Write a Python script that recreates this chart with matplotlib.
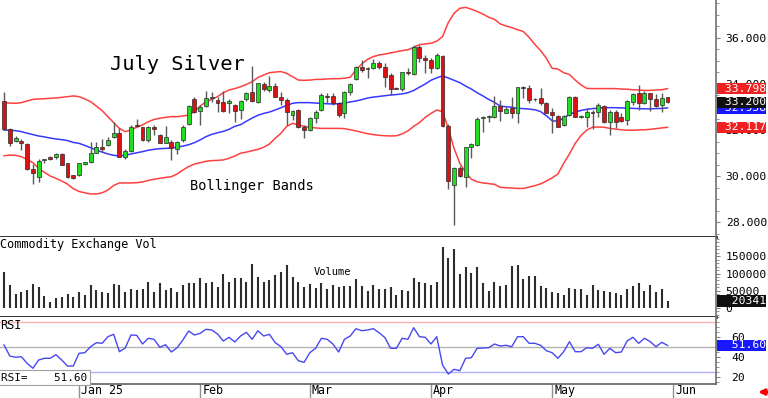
import matplotlib
matplotlib.use("Agg")
import matplotlib.pyplot as plt
import matplotlib.transforms as mtransforms
from matplotlib.ticker import MultipleLocator, FormatStrFormatter, FuncFormatter
import numpy as np

plt.rcParams['font.family'] = ['DejaVu Sans Mono']

# daily bars, Dec 12 2024 .. May 30 2025
opens = [33.27, 32.03, 31.52, 31.52, 31.39, 30.29, 29.97, 30.69, 30.84, 30.84,
         30.94, 30.55, 30.03, 30.04, 30.53, 30.62, 31.01, 31.24, 31.34, 31.68,
         31.88, 30.81, 31.10, 32.20, 32.11, 31.56, 32.11, 31.77, 31.45, 31.48,
         31.18, 31.57, 32.25, 33.33, 32.83, 33.04, 33.38, 33.30, 33.23, 33.19,
         33.09, 32.87, 33.33, 33.67, 33.23, 34.00, 33.74, 33.91, 33.45, 33.30,
         32.65, 32.87, 32.15, 32.00, 32.51, 32.87, 33.48, 33.48, 33.19, 32.72,
         33.64, 34.20, 34.75, 34.66, 34.68, 34.90, 34.72, 34.39, 33.83, 33.77,
         34.54, 34.42, 35.62, 35.12, 35.04, 34.68, 35.22, 32.17, 29.61, 30.33,
         29.97, 31.28, 31.35, 32.51, 32.55, 32.55, 33.04, 32.75, 32.94, 32.75,
         33.86, 33.81, 33.33, 33.38, 33.19, 32.80, 32.61, 32.22, 32.65, 33.45,
         32.56, 32.58, 32.80, 32.80, 33.04, 32.36, 32.80, 32.58, 32.43, 33.23,
         33.59, 33.16, 33.59, 33.33, 33.09, 33.42]
highs = [33.64, 32.07, 31.74, 31.59, 31.42, 30.52, 30.72, 30.76, 30.87, 31.01,
         30.98, 30.58, 30.06, 30.58, 30.62, 31.49, 31.49, 31.59, 31.71, 32.36,
         32.07, 31.16, 32.20, 32.46, 32.14, 32.17, 32.20, 31.83, 32.17, 31.57,
         31.52, 32.22, 33.09, 33.45, 33.09, 33.70, 33.67, 33.45, 33.71, 33.35,
         33.13, 33.30, 33.67, 34.78, 34.06, 34.10, 34.35, 34.03, 33.67, 33.38,
         32.87, 32.90, 32.22, 32.55, 32.87, 33.59, 33.62, 33.62, 33.23, 33.71,
         34.06, 34.78, 35.04, 34.72, 35.07, 35.01, 34.93, 34.46, 33.86, 34.54,
         34.68, 35.70, 35.70, 35.26, 35.12, 35.36, 35.26, 32.26, 30.41, 30.43,
         31.28, 31.45, 32.55, 32.61, 32.65, 33.48, 33.30, 33.01, 33.42, 33.88,
         33.91, 33.96, 33.41, 33.81, 33.23, 32.94, 32.65, 32.65, 33.48, 33.48,
         32.65, 32.94, 32.87, 33.19, 33.09, 32.87, 32.87, 32.72, 33.30, 33.59,
         33.96, 33.71, 33.62, 33.57, 33.62, 33.45]
lows = [32.00, 31.30, 31.46, 31.13, 30.26, 29.65, 29.75, 30.58, 30.69, 30.72,
        30.46, 29.90, 29.85, 30.01, 30.50, 30.58, 30.98, 31.06, 31.30, 31.64,
        30.81, 30.72, 31.04, 32.14, 31.53, 31.50, 31.78, 31.42, 31.42, 30.69,
        30.95, 31.49, 32.22, 32.75, 32.22, 32.99, 33.23, 32.80, 32.80, 32.72,
        32.36, 32.46, 33.28, 33.23, 33.19, 33.71, 33.67, 33.42, 33.09, 32.22,
        32.43, 32.07, 31.64, 31.97, 32.32, 32.84, 33.19, 33.09, 32.55, 32.51,
        33.52, 34.17, 34.54, 34.25, 34.64, 34.64, 33.88, 33.52, 33.77, 33.71,
        34.39, 34.39, 34.97, 34.46, 34.46, 34.64, 32.15, 29.42, 27.87, 29.97,
        29.54, 30.77, 31.30, 31.93, 32.36, 32.51, 32.41, 32.72, 32.51, 32.32,
        33.38, 33.16, 33.28, 33.09, 32.72, 31.86, 32.12, 32.17, 32.61, 32.55,
        32.51, 32.15, 32.03, 32.58, 32.29, 31.78, 32.07, 32.36, 32.22, 33.09,
        32.87, 33.13, 32.84, 32.99, 32.80, 33.16]
closes = [32.03, 31.45, 31.65, 31.42, 30.29, 30.11, 30.65, 30.74, 30.74, 30.97,
          30.50, 29.94, 29.91, 30.55, 30.59, 30.98, 31.27, 31.18, 31.56, 31.88,
          30.84, 31.10, 32.14, 32.16, 31.56, 32.11, 32.03, 31.45, 31.68, 31.20,
          31.46, 32.15, 33.04, 32.80, 33.01, 33.38, 33.45, 33.19, 32.83, 33.28,
          32.83, 33.28, 33.62, 33.28, 34.03, 33.77, 33.91, 33.45, 33.30, 32.80,
          32.83, 32.15, 32.00, 32.51, 32.80, 33.52, 33.45, 33.19, 32.65, 33.67,
          34.00, 34.72, 34.61, 34.68, 34.90, 34.72, 34.32, 33.77, 33.79, 34.51,
          34.46, 35.62, 35.12, 35.04, 34.68, 35.26, 32.17, 29.80, 30.33, 30.00,
          31.25, 31.38, 32.46, 32.58, 32.61, 33.04, 32.83, 32.90, 32.75, 33.86,
          33.83, 33.30, 33.36, 33.19, 32.75, 32.64, 32.14, 32.61, 33.42, 32.58,
          32.61, 32.80, 32.72, 33.09, 32.36, 32.80, 32.36, 32.41, 33.28, 33.57,
          33.16, 33.62, 33.33, 33.04, 33.38, 33.20]

bb_upper = [33.19, 33.17, 33.16, 33.19, 33.26, 33.33, 33.35, 33.36, 33.38, 33.39,
            33.42, 33.45, 33.48, 33.45, 33.35, 33.23, 33.04, 32.84, 32.58, 32.32,
            32.07, 31.93, 32.00, 32.12, 32.22, 32.36, 32.46, 32.51, 32.55, 32.58,
            32.58, 32.61, 32.65, 32.80, 33.04, 33.23, 33.33, 33.45, 33.62, 33.74,
            33.80, 33.88, 33.98, 34.10, 34.28, 34.39, 34.49, 34.52, 34.54, 34.46,
            34.32, 34.17, 34.16, 34.17, 34.20, 34.20, 34.22, 34.23, 34.23, 34.25,
            34.29, 34.61, 34.87, 35.07, 35.19, 35.26, 35.30, 35.35, 35.40, 35.45,
            35.49, 35.59, 35.71, 35.74, 35.77, 35.86, 36.06, 36.67, 37.07, 37.29,
            37.33, 37.25, 37.15, 37.04, 36.90, 36.81, 36.61, 36.52, 36.45, 36.36,
            36.28, 36.03, 35.72, 35.45, 35.12, 34.68, 34.65, 34.49, 34.41, 34.17,
            33.96, 33.81, 33.80, 33.80, 33.80, 33.80, 33.80, 33.78, 33.77, 33.75,
            33.74, 33.72, 33.72, 33.74, 33.75, 33.798]
bb_mid = [32.00, 31.99, 31.97, 31.93, 31.86, 31.80, 31.74, 31.70, 31.65, 31.61,
          31.58, 31.54, 31.46, 31.42, 31.33, 31.23, 31.13, 31.04, 30.96, 30.90,
          30.87, 30.90, 30.96, 31.01, 31.06, 31.12, 31.16, 31.19, 31.20, 31.22,
          31.26, 31.30, 31.36, 31.45, 31.57, 31.71, 31.81, 31.88, 31.94, 32.03,
          32.16, 32.23, 32.38, 32.52, 32.64, 32.72, 32.78, 32.87, 32.97, 33.07,
          33.16, 33.19, 33.19, 33.19, 33.17, 33.16, 33.14, 33.13, 33.14, 33.17,
          33.22, 33.26, 33.32, 33.39, 33.43, 33.46, 33.49, 33.52, 33.54, 33.57,
          33.62, 33.72, 33.86, 34.00, 34.16, 34.27, 34.35, 34.26, 34.16, 34.06,
          33.91, 33.78, 33.62, 33.48, 33.33, 33.20, 33.04, 33.01, 32.99, 32.94,
          32.93, 32.91, 32.88, 32.80, 32.62, 32.40, 32.38, 32.52, 32.68, 32.78,
          32.85, 32.90, 32.93, 32.95, 32.97, 32.97, 32.97, 32.96, 32.95, 32.94,
          32.93, 32.92, 32.92, 32.93, 32.94, 32.958]
bb_lower = [30.88, 30.91, 30.90, 30.84, 30.72, 30.58, 30.33, 30.16, 30.00, 29.90,
            29.78, 29.65, 29.45, 29.33, 29.27, 29.22, 29.22, 29.27, 29.39, 29.59,
            29.70, 29.70, 29.70, 29.71, 29.74, 29.81, 29.86, 29.90, 29.94, 29.97,
            30.09, 30.26, 30.41, 30.52, 30.58, 30.64, 30.67, 30.68, 30.70, 30.77,
            30.87, 30.99, 31.04, 31.10, 31.16, 31.25, 31.39, 31.64, 31.86, 32.16,
            32.29, 32.22, 32.16, 32.12, 32.09, 32.07, 32.07, 32.07, 32.07, 32.06,
            32.01, 31.96, 31.90, 31.84, 31.80, 31.77, 31.75, 31.74, 31.75, 31.83,
            31.96, 32.16, 32.32, 32.55, 32.72, 32.87, 32.80, 32.07, 31.20, 30.55,
            30.16, 29.86, 29.75, 29.70, 29.67, 29.64, 29.51, 29.49, 29.48, 29.46,
            29.46, 29.52, 29.58, 29.66, 29.78, 29.92, 30.09, 30.55, 30.96, 31.42,
            31.76, 32.00, 32.12, 32.13, 32.12, 32.07, 32.04, 32.01, 31.99, 31.99,
            32.00, 32.01, 32.03, 32.06, 32.09, 32.117]

volume = [103500, 66700, 39600, 45500, 52200, 69600, 61900, 34800, 18400, 28000,
          32900, 40600, 30900, 47300, 37700, 66700, 52200, 47300, 44500, 69600,
          65700, 47300, 54100, 52200, 56100, 75400, 46400, 71500, 52200, 58000,
          46400, 66700, 71500, 71500, 87900, 71500, 75400, 61900, 97600, 76400,
          87900, 87900, 76400, 127600, 88900, 76400, 81200, 95700, 105400, 124700,
          90900, 76400, 60000, 69600, 57000, 73500, 55100, 66700, 61900, 63800,
          63800, 83100, 63800, 50300, 66700, 54100, 55100, 60000, 37700, 52200,
          49300, 86000, 74400, 73500, 66700, 74400, 177000, 145000, 170000, 98600,
          120000, 102500, 117900, 73500, 50300, 74400, 63800, 66700, 121800, 124700,
          85100, 92800, 92800, 63800, 58000, 47300, 42500, 37700, 58900, 54100,
          54100, 37700, 66700, 52200, 50300, 47300, 42500, 37700, 54100, 63800,
          71500, 50300, 66700, 47300, 54100, 20341]

rsi = [52.0, 41.0, 39.7, 40.3, 33.7, 28.7, 37.0, 38.7, 38.7, 42.3,
       37.0, 31.0, 31.0, 43.7, 44.3, 50.3, 54.3, 53.7, 60.3, 62.7,
       45.3, 49.0, 62.0, 61.7, 53.0, 58.7, 57.7, 49.7, 52.3, 45.0,
       49.3, 57.0, 66.0, 62.0, 63.7, 67.7, 67.0, 63.0, 56.0, 59.7,
       55.0, 61.0, 64.7, 57.7, 66.3, 61.0, 62.7, 54.3, 50.3, 42.7,
       44.3, 36.3, 34.7, 44.3, 48.7, 58.7, 57.7, 53.0, 45.0, 57.7,
       61.0, 68.3, 66.3, 67.0, 68.3, 64.3, 59.5, 48.7, 48.7, 58.7,
       57.7, 69.3, 60.3, 59.7, 53.0, 60.3, 32.0, 23.0, 27.7, 26.3,
       38.7, 39.3, 48.7, 49.0, 49.3, 53.0, 51.0, 51.7, 50.3, 60.3,
       60.3, 53.7, 53.7, 51.7, 46.3, 44.3, 38.7, 45.3, 55.3, 45.3,
       45.3, 49.3, 48.7, 52.7, 42.7, 48.7, 44.3, 45.0, 56.0, 59.7,
       53.7, 58.7, 55.3, 50.3, 54.7, 51.60]

month_pos = [13, 34, 53, 74, 95, 116]
month_labels = ['Jan 25', 'Feb', 'Mar', 'Apr', 'May', 'Jun']

x = np.arange(len(closes))
W, H = 768, 398


def rect(x0, y0, x1, y1):
    return [x0 / W, 1 - y1 / H, (x1 - x0) / W, (y1 - y0) / H]


fig = plt.figure(figsize=(W / 100, H / 100), dpi=100)
ax_p = fig.add_axes(rect(0, 0, 716, 237))
ax_v = fig.add_axes(rect(0, 237, 716, 317))
ax_r = fig.add_axes(rect(0, 317, 716, 384))

for ax in (ax_p, ax_v, ax_r):
    ax.set_xlim(-0.7, 123.4)
    ax.spines['left'].set_visible(False)
    ax.spines['top'].set_visible(False)
    ax.spines['right'].set_color('#707070')
    ax.spines['right'].set_linewidth(1.2)
    ax.yaxis.tick_right()
    ax.tick_params(axis='y', which='both', direction='out', colors='#808080',
                   labelcolor='black', labelsize=8.2, pad=4)
    ax.tick_params(axis='y', which='major', length=3)
    ax.tick_params(axis='y', which='minor', length=2)
for ax in (ax_p, ax_v):
    ax.tick_params(axis='x', bottom=False, labelbottom=False)
    ax.spines['bottom'].set_color('#202020')
    ax.spines['bottom'].set_linewidth(2)
ax_r.spines['bottom'].set_color('#606060')
ax_r.spines['bottom'].set_linewidth(1.2)


def value_tag(ax, y, text, fc):
    tr = mtransforms.blended_transform_factory(ax.transAxes, ax.transData)
    ax.text(1.0 + 1.5 / 716, y, text, transform=tr, ha='left', va='center',
            fontsize=8.2, color='white', clip_on=False, zorder=10,
            bbox=dict(boxstyle='square,pad=0.05', fc=fc, ec='none'))


# ---- price panel
o, h, l, c = map(np.array, (opens, highs, lows, closes))
up = c >= o
ax_p.plot(x, bb_upper, color='#ff4040', lw=1.1, zorder=1)
ax_p.plot(x, bb_lower, color='#ff4040', lw=1.1, zorder=1)
ax_p.plot(x, bb_mid, color='#3838ff', lw=1.1, zorder=1)
ax_p.vlines(x, l, h, color='#5a5a5a', lw=1, zorder=2)
ax_p.bar(x, np.maximum(np.abs(c - o), 0.035), bottom=np.minimum(o, c), width=0.68,
         color=np.where(up, '#22dd22', '#dd1111'), edgecolor='#2a2a2a',
         linewidth=0.5, zorder=3)
ax_p.set_ylim(27.35, 37.65)
ax_p.set_yticks([28, 30, 32, 34, 36])
ax_p.yaxis.set_major_formatter(FormatStrFormatter('%.3f'))
ax_p.yaxis.set_minor_locator(MultipleLocator(0.5))

ax_p.text(0.1536, 0.7046, 'July Silver', transform=ax_p.transAxes,
          fontsize=14.7, va='baseline')
ax_p.text(0.2654, 0.2004, 'Bollinger Bands', transform=ax_p.transAxes,
          fontsize=9.8, va='baseline')

value_tag(ax_p, bb_upper[-1], f' {bb_upper[-1]:.3f}', '#f02020')
value_tag(ax_p, bb_lower[-1], f' {bb_lower[-1]:.3f}', '#f02020')
value_tag(ax_p, bb_mid[-1], f' {bb_mid[-1]:.3f}', '#1818ff')
value_tag(ax_p, closes[-1], f' {closes[-1]:.3f}', '#101010')

# ---- volume panel
ax_v.vlines(x, 0, volume, color='#2d2d2d', lw=1.5)
ax_v.set_ylim(-26100, 205900)
ax_v.set_yticks([0, 50000, 100000, 150000])
ax_v.yaxis.set_major_formatter(FuncFormatter(lambda v, _: f'{int(v)}'))
ax_v.yaxis.set_minor_locator(MultipleLocator(10000))
ax_v.text(0.0, 0.8625, 'Commodity Exchange Vol', transform=ax_v.transAxes,
          fontsize=8.6, va='baseline')
ax_v.text(0.4385, 0.525, 'Volume', transform=ax_v.transAxes,
          fontsize=7.5, va='baseline')
value_tag(ax_v, volume[-1], f'  {volume[-1]}', '#101010')

# ---- RSI panel
ax_r.axhline(75, color='#ffb4b4', lw=1)
ax_r.axhline(50, color='#b4b4b4', lw=1)
ax_r.axhline(25, color='#b0b0ff', lw=1)
ax_r.plot(x, rsi, color='#4848f0', lw=1.0)
ax_r.set_ylim(13, 80)
ax_r.set_yticks([20, 40, 60])
ax_r.yaxis.set_minor_locator(MultipleLocator(5))
ax_r.tick_params(axis='y', which='major', pad=8)
ax_r.text(0.0, 0.82, 'RSI', transform=ax_r.transAxes, fontsize=8.6, va='baseline')
ax_r.text(0.002, 0.05, f'RSI=    {rsi[-1]:.2f}', transform=ax_r.transAxes,
          fontsize=7.9, va='baseline',
          bbox=dict(boxstyle='square,pad=0.2', fc='white', ec='#a0a0a0', lw=0.8))
value_tag(ax_r, rsi[-1], f'  {rsi[-1]:.2f}', '#1818ff')

ax_r.set_xticks(month_pos)
ax_r.set_xticklabels(month_labels, ha='left')
ax_r.tick_params(axis='x', direction='out', length=10, width=1, color='#909090',
                 pad=-10, labelsize=8.4)
shift = mtransforms.ScaledTranslation(2 / 100, 0, fig.dpi_scale_trans)
for lab in ax_r.get_xticklabels():
    lab.set_transform(lab.get_transform() + shift)

ax_r.annotate('', xy=(1.055, -0.12), xytext=(1.078, -0.12), xycoords='axes fraction',
              arrowprops=dict(arrowstyle='-|>', color='red', lw=2.2, mutation_scale=8),
              annotation_clip=False)

fig.savefig('out.png', dpi=100)
